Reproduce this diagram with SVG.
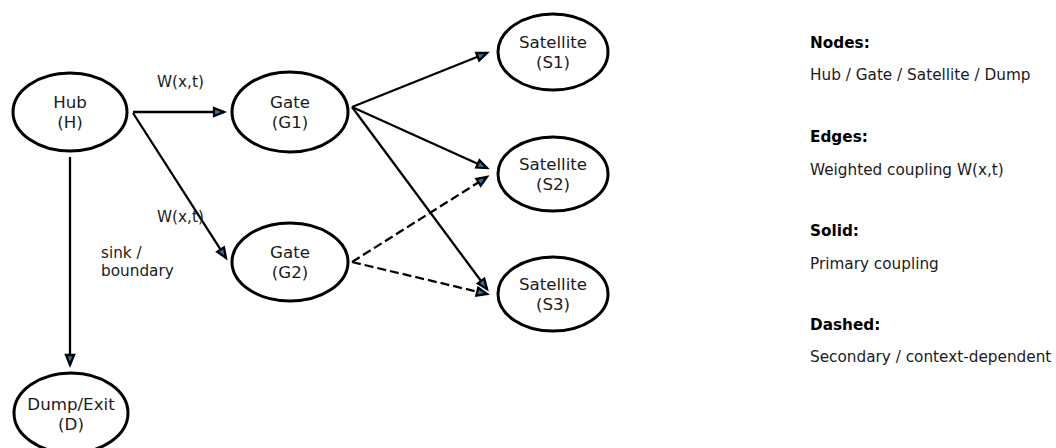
<svg xmlns="http://www.w3.org/2000/svg" width="1056" height="448" viewBox="0 0 1056 448">
  <style>
    .node ellipse { fill: #ffffff; stroke: #000000; stroke-width: 3; }
    .node text { font-family: "DejaVu Sans", "Liberation Sans", sans-serif; font-size: 16.67px; fill: #1a1a1a; text-anchor: middle; }
    .edge { fill: none; stroke: #000000; stroke-width: 2.3; }
    .dashed { stroke-dasharray: 9 4; }
    .lbl { font-family: "DejaVu Sans", "Liberation Sans", sans-serif; font-size: 15.28px; fill: #1a1a1a; }
    .hdr { font-family: "DejaVu Sans", "Liberation Sans", sans-serif; font-size: 15.28px; font-weight: bold; fill: #000000; }
  </style>
  <defs>
    <marker id="head" markerUnits="userSpaceOnUse" markerWidth="16" markerHeight="14" refX="10" refY="4" orient="auto" overflow="visible">
      <path d="M0,0 L10,4 L0,8 Z" fill="#1f77b4" stroke="#000000" stroke-width="2.3" stroke-dasharray="none" stroke-linejoin="miter"/>
    </marker>
  </defs>

  <rect width="1056" height="448" fill="#ffffff"/>

  <!-- connectors -->
  <g id="connectors">
    <path class="edge" d="M133,112 L224,112" marker-end="url(#head)"/>
    <path class="edge" d="M133,113 L226,258" marker-end="url(#head)"/>
    <path class="edge" d="M70,157 L70,365" marker-end="url(#head)"/>
    <path class="edge" d="M352,107 L487,53" marker-end="url(#head)"/>
    <path class="edge" d="M352,107 L487,168" marker-end="url(#head)"/>
    <path class="edge" d="M352,107 L487,289" marker-end="url(#head)"/>
    <path class="edge dashed" d="M352,262 L487,177" marker-end="url(#head)"/>
    <path class="edge dashed" d="M352,262 L487,294" marker-end="url(#head)"/>
    <text class="lbl" x="157" y="87">W(x,t)</text>
    <text class="lbl" x="157" y="222">W(x,t)</text>
    <text class="lbl" x="101" y="258">sink /</text>
    <text class="lbl" x="101" y="276">boundary</text>
  </g>

  <!-- nodes -->
  <g id="hub" class="node">
    <ellipse cx="70" cy="112" rx="57" ry="39"/>
    <text x="70" y="108">Hub</text>
    <text x="70" y="128">(H)</text>
  </g>
  <g id="gate1" class="node">
    <ellipse cx="290" cy="112" rx="58" ry="40"/>
    <text x="290" y="108">Gate</text>
    <text x="290" y="128">(G1)</text>
  </g>
  <g id="gate2" class="node">
    <ellipse cx="290" cy="262" rx="58" ry="39"/>
    <text x="290" y="258">Gate</text>
    <text x="290" y="278">(G2)</text>
  </g>
  <g id="sat1" class="node">
    <ellipse cx="553" cy="52" rx="55" ry="38"/>
    <text x="553" y="48">Satellite</text>
    <text x="553" y="68">(S1)</text>
  </g>
  <g id="sat2" class="node">
    <ellipse cx="553" cy="174" rx="55" ry="37"/>
    <text x="553" y="170">Satellite</text>
    <text x="553" y="190">(S2)</text>
  </g>
  <g id="sat3" class="node">
    <ellipse cx="553" cy="294" rx="55" ry="37"/>
    <text x="553" y="290">Satellite</text>
    <text x="553" y="310">(S3)</text>
  </g>
  <g id="dump" class="node">
    <ellipse cx="71" cy="413" rx="57" ry="40"/>
    <text x="71" y="410">Dump/Exit</text>
    <text x="71" y="430">(D)</text>
  </g>

  <!-- legend -->
  <g id="legend">
    <text class="hdr" x="810" y="48">Nodes:</text>
    <text class="lbl" x="810" y="80">Hub / Gate / Satellite / Dump</text>
    <text class="hdr" x="810" y="142">Edges:</text>
    <text class="lbl" x="810" y="175">Weighted coupling W(x,t)</text>
    <text class="hdr" x="810" y="236">Solid:</text>
    <text class="lbl" x="810" y="269">Primary coupling</text>
    <text class="hdr" x="810" y="330">Dashed:</text>
    <text class="lbl" x="810" y="362">Secondary / context-dependent</text>
  </g>
</svg>
